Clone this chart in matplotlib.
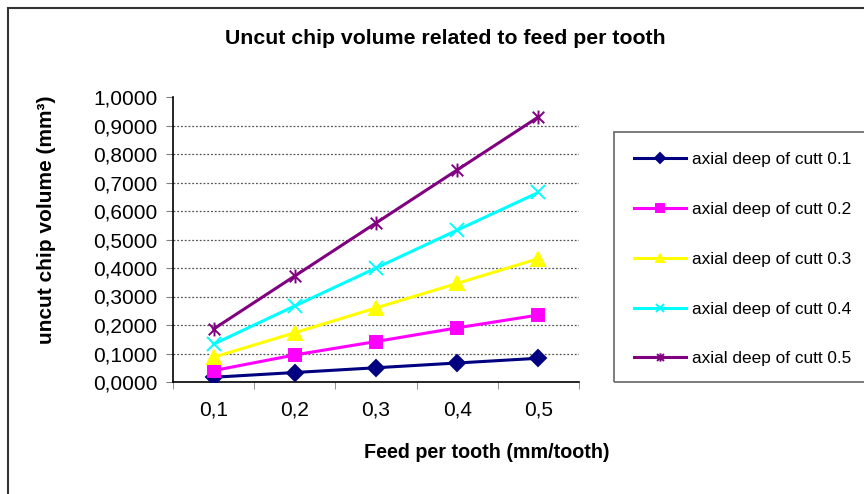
"""Uncut chip volume vs feed per tooth."""

import matplotlib

matplotlib.use("Agg")
import matplotlib.pyplot as plt
from matplotlib.patches import Rectangle
from matplotlib.path import Path

plt.rcParams["font.family"] = ["Liberation Sans", "DejaVu Sans"]

feed = ["0,1", "0,2", "0,3", "0,4", "0,5"]
labels = [
    "axial deep of cutt 0.1",
    "axial deep of cutt 0.2",
    "axial deep of cutt 0.3",
    "axial deep of cutt 0.4",
    "axial deep of cutt 0.5",
]
ap_01 = [0.0167, 0.0333, 0.050, 0.0667, 0.0833]
ap_02 = [0.040, 0.095, 0.142, 0.190, 0.235]
ap_03 = [0.087, 0.173, 0.260, 0.346, 0.433]
ap_04 = [0.133, 0.267, 0.400, 0.533, 0.665]
ap_05 = [0.186, 0.372, 0.558, 0.744, 0.930]
y_ticks = [0.0, 0.1, 0.2, 0.3, 0.4, 0.5, 0.6, 0.7, 0.8, 0.9, 1.0]

# asterisco tipo Excel: una x con trazo vertical
star = Path(
    [(-1, -1), (1, 1), (-1, 1), (1, -1), (0, -1.2), (0, 1.2)],
    [Path.MOVETO, Path.LINETO, Path.MOVETO, Path.LINETO, Path.MOVETO, Path.LINETO],
)

series = [ap_01, ap_02, ap_03, ap_04, ap_05]
colors = ["#000080", "#FF00FF", "#FFFF00", "#00FFFF", "#800080"]
markers = ["D", "s", "^", "x", star]
msizes = [8, 9, 10, 10, 10]

fig = plt.figure(figsize=(8.64, 4.94), dpi=100)
ax = fig.add_axes([173 / 864, 1 - 382 / 494, 406 / 864, 285 / 494])

x = list(range(len(feed)))
handles = []
for vals, c, m, ms, lab in zip(series, colors, markers, msizes, labels):
    (h,) = ax.plot(
        x, vals, color=c, lw=2.2, marker=m, ms=ms, mfc=c, mec=c, mew=1.4,
        label=lab, zorder=3,
    )
    handles.append(h)

for yv in y_ticks[1:-1]:
    ax.axhline(yv, color="#555555", lw=0.9, ls=(0, (1.5, 1.5)), zorder=1)

ax.set_xlim(-0.5, len(feed) - 0.5)
ax.set_ylim(0, 1.0)
ax.set_yticks(y_ticks)
ax.set_yticklabels([f"{v:.4f}".replace(".", ",") for v in y_ticks], fontsize=15)
ax.set_xticks(x)
ax.set_xticklabels(feed, fontsize=15)
ax.set_xticks([i - 0.5 for i in range(len(feed) + 1)], minor=True)
ax.tick_params(axis="x", which="major", length=0, pad=13)
ax.tick_params(axis="x", which="minor", length=5, direction="out", color="#808080")
ax.tick_params(axis="y", length=5, direction="out", color="#808080", pad=6)
for side in ("top", "right"):
    ax.spines[side].set_visible(False)
ax.spines["left"].set_linewidth(1.2)
ax.spines["bottom"].set_linewidth(1.2)

# títulos de ejes colocados como en el gráfico de Excel (no centrados en el eje)
fig.text(487 / 864, 1 - 452 / 494, "Feed per tooth (mm/tooth)",
         ha="center", va="center", fontsize=14.2, fontweight="bold")
fig.text(47 / 864, 1 - 220 / 494, "uncut chip volume (mm³)", rotation=90,
         ha="center", va="center", fontsize=15, fontweight="bold")
fig.text(445 / 864, 1 - 38 / 494, "Uncut chip volume related to feed per tooth",
         ha="center", va="center", fontsize=15.3, fontweight="bold")

# marco exterior y marco de la leyenda (se cortan en el borde como el original)
fig.patches.append(Rectangle((8 / 864, -0.1), 1.0, 1 - 8 / 494 + 0.1,
                             transform=fig.transFigure, fill=False,
                             ec="#333333", lw=1.5))
fig.patches.append(Rectangle((614 / 864, 1 - 382 / 494), 0.4, 250 / 494,
                             transform=fig.transFigure, fill=False,
                             ec="#666666", lw=1.2))

leg = fig.legend(
    handles=handles, loc="upper left", bbox_to_anchor=(634 / 864, 1 - 152 / 494),
    frameon=False, fontsize=12.4, markerscale=0.6, handlelength=3.0,
    handletextpad=0.35, labelspacing=2.02, borderpad=0, borderaxespad=0,
)

fig.savefig("out.png", dpi=100)
